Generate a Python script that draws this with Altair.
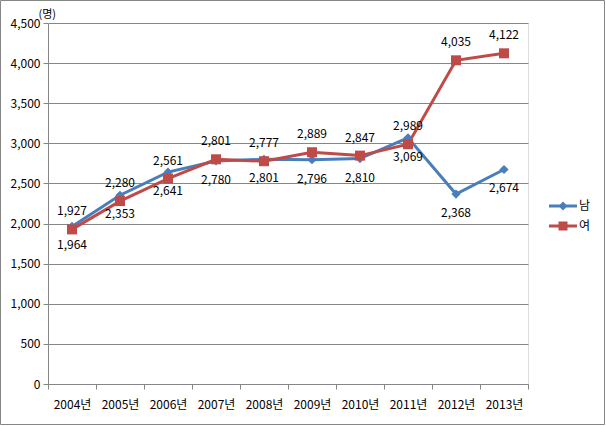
import altair as alt
import pandas as pd

years = ["2004년", "2005년", "2006년", "2007년", "2008년", "2009년", "2010년", "2011년", "2012년", "2013년"]
male = [1964, 2353, 2641, 2780, 2801, 2796, 2810, 3069, 2368, 2674]
female = [1927, 2280, 2561, 2801, 2777, 2889, 2847, 2989, 4035, 4122]
series_names = ["남", "여"]
colors = ["#4A7EBB", "#BE4B48"]
y_ticks = [0, 500, 1000, 1500, 2000, 2500, 3000, 3500, 4000, 4500]

rows = []
for i, yr in enumerate(years):
    rows.append({"year": yr, "series": "남", "value": male[i]})
    rows.append({"year": yr, "series": "여", "value": female[i]})
df = pd.DataFrame(rows)

FONT = "Noto Sans CJK KR"
GRAY = "#868686"

x_enc = alt.X(
    "year:O",
    sort=years,
    bandPosition=0.5,
    scale=alt.Scale(type="band", paddingInner=0, paddingOuter=0),
    axis=alt.Axis(title=None, tickBand="extent", labelAngle=0, labelFont=FONT,
                  labelFontSize=12, labelColor="#000000", domainColor=GRAY,
                  tickColor=GRAY, tickSize=5, labelPadding=10, grid=False),
)
y_enc = alt.Y(
    "value:Q",
    scale=alt.Scale(domain=[0, 4500], nice=False),
    axis=alt.Axis(values=y_ticks, format=",.0f", title="(명)", titleAngle=0,
                  titleAlign="left", titleX=-10, titleY=-9, titleBaseline="middle",
                  titleFont=FONT, titleFontSize=11, titleFontWeight="normal",
                  titleColor="#000000", labelFont=FONT, labelFontSize=12,
                  labelColor="#000000", domainColor=GRAY, tickColor=GRAY,
                  tickSize=5, labelPadding=3, gridColor=GRAY, grid=True),
)

base = alt.Chart(df)
male_data = base.transform_filter("datum.series == '남'")
female_data = base.transform_filter("datum.series == '여'")

line_m = male_data.mark_line(strokeWidth=3, color=colors[0]).encode(x=x_enc, y=y_enc)
line_f = female_data.mark_line(strokeWidth=3, color=colors[1]).encode(x=x_enc, y=y_enc)

pts_m = male_data.mark_point(
    shape="diamond", filled=True, opacity=1, size=85, color=colors[0]
).encode(x=x_enc, y=y_enc)
pts_f = female_data.mark_point(
    shape="square", filled=True, opacity=1, size=100, color=colors[1]
).encode(x=x_enc, y=y_enc)

lab_f = female_data.mark_text(
    dy=-18, font=FONT, fontSize=12, color="#000000"
).encode(x=x_enc, y=y_enc, text=alt.Text("value:Q", format=","))
lab_m = male_data.mark_text(
    dy=19, font=FONT, fontSize=12, color="#000000"
).encode(x=x_enc, y=y_enc, text=alt.Text("value:Q", format=","))

path_m = "M-1.4,-0.15L1.4,-0.15L1.4,0.15L-1.4,0.15Z M0,-0.45L0.45,0L0,0.45L-0.45,0Z"
path_f = "M-1.4,-0.15L1.4,-0.15L1.4,0.15L-1.4,0.15Z M-0.45,-0.45L0.45,-0.45L0.45,0.45L-0.45,0.45Z"
leg = alt.Legend(title=None, orient="none", legendX=505, legendY=173, padding=0,
                 symbolSize=400, rowPadding=4, labelOffset=6, labelFont=FONT,
                 labelFontSize=12, labelColor="#000000", symbolStrokeWidth=0)
legend_layer = base.transform_filter("datum.value < 0").mark_point(
    filled=True, opacity=1, strokeWidth=0
).encode(
    x=x_enc, y=y_enc,
    color=alt.Color("series:N", scale=alt.Scale(domain=series_names, range=colors), legend=leg),
    shape=alt.Shape("series:N", scale=alt.Scale(domain=series_names, range=[path_m, path_f]), legend=leg),
)

border = alt.Chart(pd.DataFrame({"a": [0]})).mark_rect(
    fill=None, stroke=GRAY, strokeWidth=1
).encode(x=alt.value(-47.5), x2=alt.value(556.5), y=alt.value(-22.5), y2=alt.value(401.5))

chart = alt.layer(line_m, line_f, pts_m, pts_f, lab_f, lab_m, legend_layer, border).properties(
    width=480, height=361,
    autosize=alt.AutoSizeParams(type="none"),
    padding={"left": 48, "top": 23, "right": 78, "bottom": 42},
).configure_view(stroke=None).configure(background="#ffffff")

chart.save("out.html", embed_options={"renderer": "svg", "actions": False})
